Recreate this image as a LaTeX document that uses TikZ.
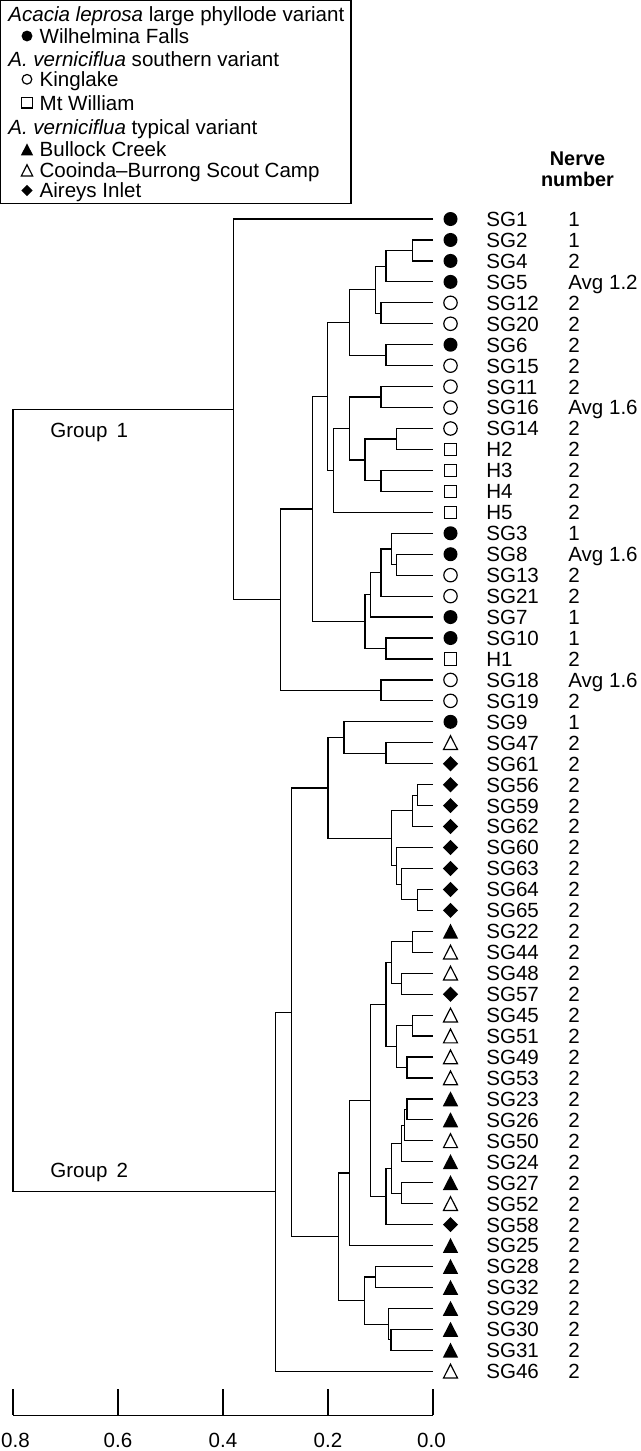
\documentclass[tikz,border=0pt]{standalone}
\usepackage{fontspec}
\setmainfont{Liberation Sans}
\usetikzlibrary{positioning,calc}

\newcommand{\lblfont}{\fontsize{11.7pt}{14pt}\selectfont}
\newcommand{\hdrfont}{\fontsize{11.3pt}{14pt}\selectfont\bfseries}

\tikzset{
    branch/.style={line width=0.68pt},
    lbl/.style={anchor=base west, inner sep=0pt, font=\lblfont},
    fdot/.pic={\fill (0,0) circle[radius=7];},
    odot/.pic={\draw[line width=0.68pt] (0,0) circle[radius=6.7];},
    osq/.pic={\draw[line width=0.68pt] (-6.2,-6.2) rectangle (6.2,6.2);},
    ftri/.pic={\fill (-7.7,7.4) -- (7.7,7.4) -- (0,-7.6) -- cycle;},
    otri/.pic={\draw[line width=0.68pt] (-7,6.8) -- (7,6.8) -- (0,-7) -- cycle;},
    fdia/.pic={\fill (0,-7.6) -- (7.6,0) -- (0,7.6) -- (-7.6,0) -- cycle;}
}

\begin{document}
\begin{tikzpicture}[x=0.02cm, y=-0.02cm]
    \useasboundingbox (0,0) rectangle (640,1451);

    % Legend
    \draw[line width=0.7pt] (0.8,0.8) rectangle (351,203.3);
    \node[lbl] (hdrA) at (8,21) {\textit{Acacia leprosa} large phyllode variant};
    \pic[scale=0.78] at (27,36) {fdot};
    \node[lbl] (wil) at (39.3,43.4) {Wilhelmina Falls};
    \node[lbl] (hdrB) at (8,66.5) {\textit{A. verniciflua} southern variant};
    \pic[scale=0.72] at (27,79.3) {odot};
    \node[lbl] (kin) at (39.3,86.5) {Kinglake};
    \pic[scale=0.85] at (27,102.7) {osq};
    \node[lbl] (mtw) at (39.3,110) {Mt William};
    \node[lbl] (hdrC) at (8,134) {\textit{A. verniciflua} typical variant};
    \pic[scale=0.8] at (27,149.5) {ftri};
    \node[lbl] (bul) at (39.3,156.4) {Bullock Creek};
    \pic[scale=0.82] at (27,170.5) {otri};
    \node[lbl] (coo) at (39.3,177.5) {Cooinda--Burrong Scout Camp};
    \pic[scale=0.75] at (27,190.5) {fdia};
    \node[lbl] (air) at (39.3,197.5) {Aireys Inlet};

    % Nerve number header
    \node[anchor=base, inner sep=0pt, font=\hdrfont] (nerve) at (577.5,165) {Nerve};
    \node[anchor=base, inner sep=0pt, font=\hdrfont] (number) at (577.5,186) {number};

    % Leaves: symbol, sample and nerve number
    \foreach \nm/\sym/\nv [count=\i from 0] in {SG1/fdot/1, SG2/fdot/1, SG4/fdot/2,
        SG5/fdot/Avg 1.2, SG12/odot/2, SG20/odot/2, SG6/fdot/2, SG15/odot/2,
        SG11/odot/2, SG16/odot/Avg 1.6, SG14/odot/2, H2/osq/2, H3/osq/2, H4/osq/2,
        H5/osq/2, SG3/fdot/1, SG8/fdot/Avg 1.6, SG13/odot/2, SG21/odot/2, SG7/fdot/1,
        SG10/fdot/1, H1/osq/2, SG18/odot/Avg 1.6, SG19/odot/2, SG9/fdot/1,
        SG47/otri/2, SG61/fdia/2, SG56/fdia/2, SG59/fdia/2, SG62/fdia/2, SG60/fdia/2,
        SG63/fdia/2, SG64/fdia/2, SG65/fdia/2, SG22/ftri/2, SG44/otri/2, SG48/otri/2,
        SG57/fdia/2, SG45/otri/2, SG51/otri/2, SG49/otri/2, SG53/otri/2, SG23/ftri/2,
        SG26/ftri/2, SG50/otri/2, SG24/ftri/2, SG27/ftri/2, SG52/otri/2, SG58/fdia/2,
        SG25/ftri/2, SG28/ftri/2, SG32/ftri/2, SG29/ftri/2, SG30/ftri/2, SG31/ftri/2,
        SG46/otri/2}{
        \coordinate (\nm) at (433,{219+20.95*\i});
        \pic at (450.5,{219+20.95*\i}) {\sym};
        \node[lbl] (lab\nm) at (486,{226.4+20.95*\i}) {\nm};
        \node[lbl] (nv\nm) at (568,{226.4+20.95*\i}) {\nv};
    }

    % Clusters: name/height/row/left child/right child
    \foreach \n/\x/\r/\a/\b in {a1/412.3/1.5/SG2/SG4, a2/386/2.25/a1/SG5,
        a3/381/4.5/SG12/SG20, a4/375.3/3.375/a2/a3, a5/386/6.5/SG6/SG15,
        a6/349.3/4.9375/a4/a5, a7/381/8.5/SG11/SG16, a8/396.7/10.5/SG14/H2,
        a9/381/12.5/H3/H4, a10/365/11.5/a8/a9, a11/349.3/10/a7/a10,
        a12/333.7/12/a11/H5, a13/327.7/8.46875/a6/a12, a14/396.7/16.5/SG8/SG13,
        a15/391.3/15.75/SG3/a14, a16/381/16.875/a15/SG21, a17/370.7/17.9375/a16/SG7,
        a18/386/20.5/SG10/H1, a19/365/19.21875/a17/a18, a20/312.3/13.84375/a13/a19,
        a21/381/22.5/SG18/SG19, a22/280.7/18.171875/a20/a21,
        a23/233.3/9.0859375/SG1/a22,
        b1/386/25.5/SG47/SG61, b2/344/24.75/SG9/b1, b3/417.7/27.5/SG56/SG59,
        b4/412.3/28.25/b3/SG62, b5/417.7/32.5/SG64/SG65, b6/401.7/31.75/SG63/b5,
        b7/396.7/30.875/SG60/b6, b8/391.3/29.5625/b4/b7, b9/328/27.15625/b2/b8,
        b10/412.3/34.5/SG22/SG44, b11/401.7/36.5/SG48/SG57, b12/391.3/35.5/b10/b11,
        b13/412.3/38.5/SG45/SG51, b14/407/40.5/SG49/SG53, b15/396.7/39.5/b13/b14,
        b16/386/37.5/b12/b15, b17/407/42.5/SG23/SG26, b18/404.3/43.25/b17/SG50,
        b19/401.7/44.125/b18/SG24, b20/401.7/46.5/SG27/SG52,
        b21/391.3/45.3125/b19/b20, b22/386/46.65625/b21/SG58,
        b23/370.7/42.078125/b16/b22, b24/349.3/45.5390625/b23/SG25,
        b25/375.7/50.5/SG28/SG32, b26/391/53.5/SG30/SG31, b27/388.3/52.75/SG29/b26,
        b28/364.3/51.625/b25/b27, b29/338.3/48.58203125/b24/b28,
        b30/291.7/37.869140625/b9/b29, b31/275.7/46.4345703125/b30/SG46,
        root/13/27.76025390625/a23/b31}{
        \coordinate (\n) at (\x,{219+20.95*\r});
        \draw[branch] (\a) -| (\n) |- (\b);
    }

    % Group labels
    \node[lbl] (grp1) at (50,437.5) {Group\hspace{0.45em}1};
    \node[lbl] (grp2) at (50,1177) {Group\hspace{0.45em}2};

    % Scale
    \draw[branch] (13,1415.3) -- (433,1415.3);
    \foreach \v/\lx [count=\k] in {0.8/15.5,0.6/118,0.4/223,0.2/328,0.0/431.5}{
        \draw[branch] ({433-525*\v},1389) -- ({433-525*\v},1415.3);
        \node[anchor=base, inner sep=0pt, font=\lblfont] (tick\k) at (\lx,1447.4) {\v};
    }
\end{tikzpicture}
\end{document}
